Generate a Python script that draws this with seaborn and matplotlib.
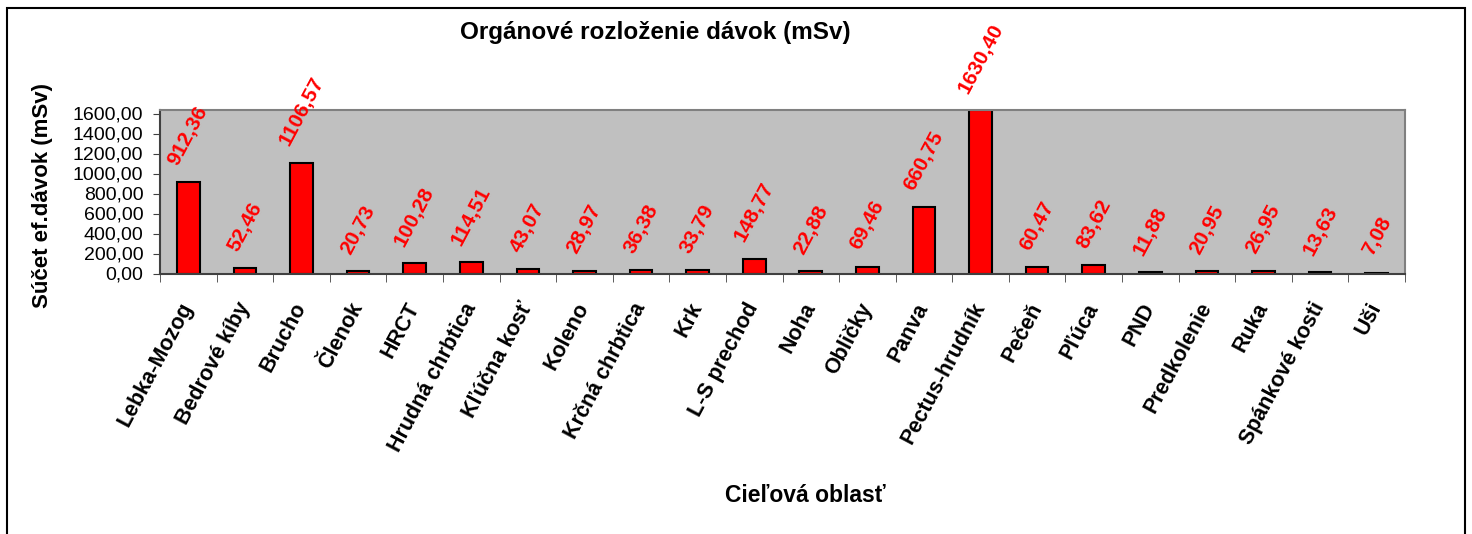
import matplotlib.pyplot as plt
import matplotlib.patches as mpatches
from matplotlib.ticker import FuncFormatter
import seaborn as sns
import pandas as pd

# Cieľové oblasti a súčty efektívnych dávok
oblasti = ["Lebka-Mozog", "Bedrové kíby", "Brucho", "Členok", "HRCT", "Hrudná chrbtica",
           "Kľúčna kosť", "Koleno", "Krčná chrbtica", "Krk", "L-S prechod", "Noha",
           "Obličky", "Panva", "Pectus-hrudník", "Pečeň", "Pľúca", "PND",
           "Predkolenie", "Ruka", "Spánkové kosti", "Uši"]
davky = [912.36, 52.46, 1106.57, 20.73, 100.28, 114.51,
         43.07, 28.97, 36.38, 33.79, 148.77, 22.88,
         69.46, 660.75, 1630.40, 60.47, 83.62, 11.88,
         20.95, 26.95, 13.63, 7.08]
y_ticks = [0, 200, 400, 600, 800, 1000, 1200, 1400, 1600]

df = pd.DataFrame({"oblast": oblasti, "davka": davky})

plt.rcParams["font.family"] = ["Liberation Sans", "DejaVu Sans"]

def ciarka(v, pos=None):
    return f"{v:.2f}".replace(".", ",")

W, H = 1472, 534
fig = plt.figure(figsize=(W / 100, H / 100), dpi=100)
ax = fig.add_axes([160 / W, 1 - 273.5 / H, 1245 / W, 164 / H])

sns.barplot(data=df, x="oblast", y="davka", color="#ff0000", edgecolor="black",
            linewidth=1.5, width=0.4, saturation=1, ax=ax)

ax.set_facecolor("#c0c0c0")
ax.set_xlim(-0.5, len(oblasti) - 0.5)
ax.set_ylim(0, 1640)
ax.set_yticks(y_ticks)
ax.yaxis.set_major_formatter(FuncFormatter(ciarka))
ax.tick_params(axis="y", labelsize=14, length=5, color="#404040", pad=7)

# popisky hodnôt nad stĺpcami
for i, v in enumerate(davky):
    ax.annotate(ciarka(v), (i, v), xytext=(0, 10), textcoords="offset points",
                ha="center", va="bottom", rotation=62, color="#ff0000",
                fontsize=15, fontweight="bold", annotation_clip=False)

# x ticks medzi kategóriami ako v Exceli
ax.set_xticks([i - 0.5 for i in range(len(oblasti) + 1)], minor=True)
ax.tick_params(axis="x", which="minor", length=6, color="#404040")
ax.tick_params(axis="x", which="major", length=0, pad=22)
ax.set_xticklabels(oblasti, rotation=62, ha="right", va="center",
                   rotation_mode="anchor", fontsize=15.5, fontweight="bold")

for s in ["top", "right"]:
    ax.spines[s].set_color("#808080")
for s in ["left", "bottom"]:
    ax.spines[s].set_color("#404040")
for s in ax.spines.values():
    s.set_linewidth(1.5)

ax.set_xlabel("")
ax.set_ylabel("")
fig.text(805 / W, 1 - 495 / H, "Cieľová oblasť", ha="center", va="center",
         fontsize=16.5, fontweight="bold")
fig.text(43 / W, 1 - 195 / H, "Súčet ef.dávok (mSv)", ha="center", va="center",
         rotation=90, fontsize=16, fontweight="bold")
fig.text(655 / W, 1 - 33 / H, "Orgánové rozloženie dávok (mSv)", ha="center",
         va="center", fontsize=17.5, fontweight="bold")

fig.patches.append(mpatches.Rectangle((7 / W, -0.02), 1458 / W, 1.02 - 8 / H,
                                      transform=fig.transFigure, fill=False,
                                      edgecolor="black", linewidth=1.5))

plt.savefig("out.png", dpi=100)
